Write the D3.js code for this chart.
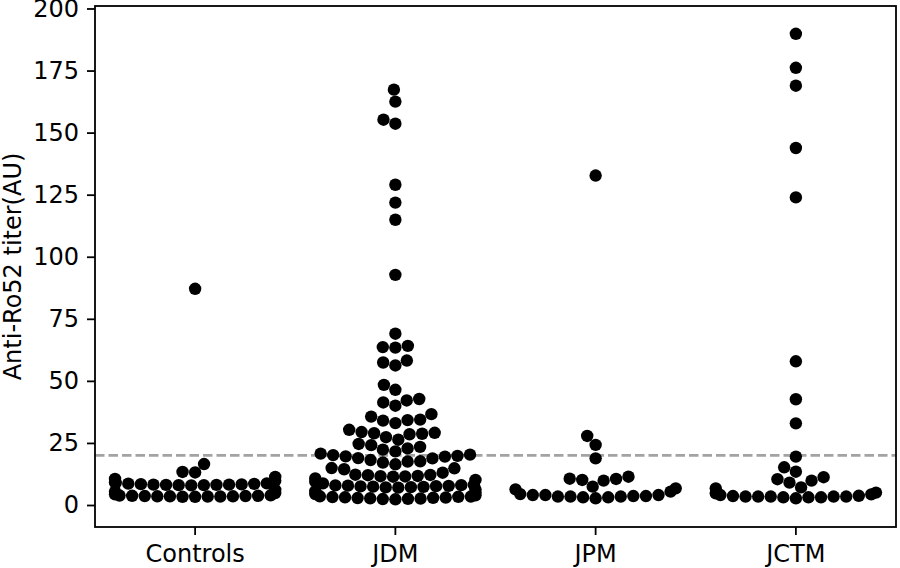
<!DOCTYPE html>
<html>
<head>
<meta charset="utf-8">
<script src="https://cdn.jsdelivr.net/npm/d3@7"></script>
<style>
  body { margin: 0; background: #fff; }
  svg { display: block; }
  text { font-family: "DejaVu Sans", sans-serif; fill: #000; }
</style>
</head>
<body>
<svg id="chart" width="900" height="568"></svg>
<script>
// groups on the x axis
var groups = ["Controls", "JDM", "JPM", "JCTM"];

// anti-Ro52 titers (AU), one array per group
var controls = [3.3, 3.3, 3.4, 3.4, 3.5, 3.5, 3.5, 3.6, 3.6, 3.7, 3.7, 3.8, 3.9,
  4.3, 4.8, 5.4, 6.1,
  7.9, 8.0, 8.0, 8.1, 8.1, 8.2, 8.2, 8.3, 8.4, 8.5, 8.6, 8.7, 8.9, 9.1,
  9.8, 10.5, 11.3,
  13.1, 13.3, 16.5, 87.1];
var jdm = [2.3, 2.4, 2.5, 2.6, 2.7, 2.8, 2.9, 3.0, 3.1, 3.2, 3.3, 3.4, 3.5,
  3.9, 4.4, 5.0, 5.6, 6.2,
  7.0, 7.1, 7.2, 7.3, 7.4, 7.5, 7.6, 7.7, 7.8, 7.9, 8.0, 8.1,
  8.7, 9.4, 10.1, 10.7,
  11.4, 11.5, 11.6, 11.7, 12.0, 12.1, 12.2, 13.0, 14.4, 14.8, 14.9,
  16.4, 17.1, 17.5, 17.6, 18.1, 18.8, 18.9, 19.5, 19.6, 19.8, 20.1, 20.3, 20.7,
  21.6, 22.3, 22.8, 23.4, 24.1, 24.6,
  26.3, 27.3, 28.5, 28.7, 28.9, 29.1, 29.4, 30.3,
  33.0, 34.0, 34.2, 34.4, 35.6, 36.6,
  40.0, 41.3, 42.1, 42.7, 46.4, 48.4,
  56.2, 57.4, 58.2, 63.4, 63.6, 64.1, 69.0,
  92.7, 114.9, 121.8, 129.0, 153.6, 155.2, 162.5, 167.3];
var jpm = [2.7, 3.1, 3.1, 3.4, 3.4, 3.4, 3.6, 3.6, 4.0, 4.0, 4.0, 4.4, 5.4, 6.3, 6.7,
  7.4, 9.8, 10.1, 10.5, 10.6, 11.4, 18.8, 24.2, 27.8, 132.7];
var jctm = [2.7, 3.1, 3.1, 3.1, 3.4, 3.4, 3.4, 3.4, 3.4, 3.6, 3.7, 4.0, 4.3, 4.7, 5.0,
  6.7, 7.1, 9.0, 9.8, 10.4, 11.2, 13.4, 15.2, 19.5, 32.9, 42.6, 57.9,
  123.9, 143.8, 168.9, 176.1, 189.8];
var groupValues = [controls, jdm, jpm, jctm];

var yTicks = [0, 25, 50, 75, 100, 125, 150, 175, 200];
var cutoff = 20;

var svg = d3.select("#chart");
var plotLeft = 95, plotRight = 896, plotTop = 6, plotBottom = 527;
var r = 6;

var x = d3.scaleBand().domain(groups).range([plotLeft, plotRight]).padding(0);
var y = d3.scaleLinear().domain([-8.86, 201]).range([plotBottom, plotTop]);

// beeswarm placement like seaborn: sorted by value, nearest free spot to the middle
function swarm(values, cx, half) {
  var pts = values.map(function(v) { return {v: v, x: cx, y: y(v)}; })
    .sort(function(a, b) { return a.v - b.v; });
  var placed = [];
  pts.forEach(function(p) {
    var nb = [];
    for (var j = placed.length - 1; j >= 0; j--) {
      if (placed[j].y - p.y < 2 * r) nb.push(placed[j]); else break;
    }
    var cands = [cx];
    var leftFirst = true;
    nb.forEach(function(q) {
      var dy = q.y - p.y;
      var dx = Math.sqrt(Math.max(4 * r * r - dy * dy, 0)) * 1.05;
      if (leftFirst) cands.push(q.x - dx, q.x + dx);
      else cands.push(q.x + dx, q.x - dx);
      leftFirst = !leftFirst;
    });
    cands = cands.map(function(c, i) { return {c: c, i: i}; })
      .sort(function(a, b) { return (Math.abs(a.c - cx) - Math.abs(b.c - cx)) || (a.i - b.i); })
      .map(function(d) { return d.c; });
    var best = cands.find(function(c) {
      return nb.every(function(q) { return (q.x - c) * (q.x - c) + (q.y - p.y) * (q.y - p.y) >= 4 * r * r - 1e-9; });
    });
    p.x = best;
    placed.push(p);
  });
  // gutters
  placed.forEach(function(p) { p.x = Math.max(cx - half, Math.min(cx + half, p.x)); });
  return placed;
}

// cutoff line
svg.append("line")
  .attr("x1", plotLeft).attr("x2", plotRight)
  .attr("y1", y(cutoff)).attr("y2", y(cutoff))
  .attr("stroke", "#a3a3a3").attr("stroke-width", 2.6)
  .attr("stroke-dasharray", "9.5 4");

// points
groups.forEach(function(g, i) {
  var cx = x(g) + x.bandwidth() / 2;
  var pts = swarm(groupValues[i], cx, x.bandwidth() * 0.4);
  svg.append("g").selectAll("circle").data(pts).enter().append("circle")
    .attr("cx", function(d) { return d.x; })
    .attr("cy", function(d) { return d.y; })
    .attr("r", 6.2)
    .attr("fill", "#000");
});

// axes
var yAxis = d3.axisLeft(y).tickValues(yTicks).tickSize(8).tickPadding(8);
var xAxis = d3.axisBottom(x).tickSize(8).tickPadding(10);

var gy = svg.append("g").attr("transform", "translate(" + plotLeft + ",0)").call(yAxis);
var gx = svg.append("g").attr("transform", "translate(0," + plotBottom + ")").call(xAxis);
[gy, gx].forEach(function(g) {
  g.select(".domain").remove();
  g.selectAll(".tick line").attr("stroke", "#000").attr("stroke-width", 1.8);
  g.selectAll(".tick text").attr("font-size", 24).attr("font-family", "DejaVu Sans").attr("fill", "#000");
});

// frame
svg.append("rect")
  .attr("x", plotLeft).attr("y", plotTop)
  .attr("width", plotRight - plotLeft).attr("height", plotBottom - plotTop)
  .attr("fill", "none").attr("stroke", "#000").attr("stroke-width", 1.8);

// y label
svg.append("text")
  .attr("transform", "translate(21," + ((plotTop + plotBottom) / 2) + ") rotate(-90)")
  .attr("text-anchor", "middle")
  .attr("font-size", 24)
  .text("Anti-Ro52 titer(AU)");
</script>
</body>
</html>
